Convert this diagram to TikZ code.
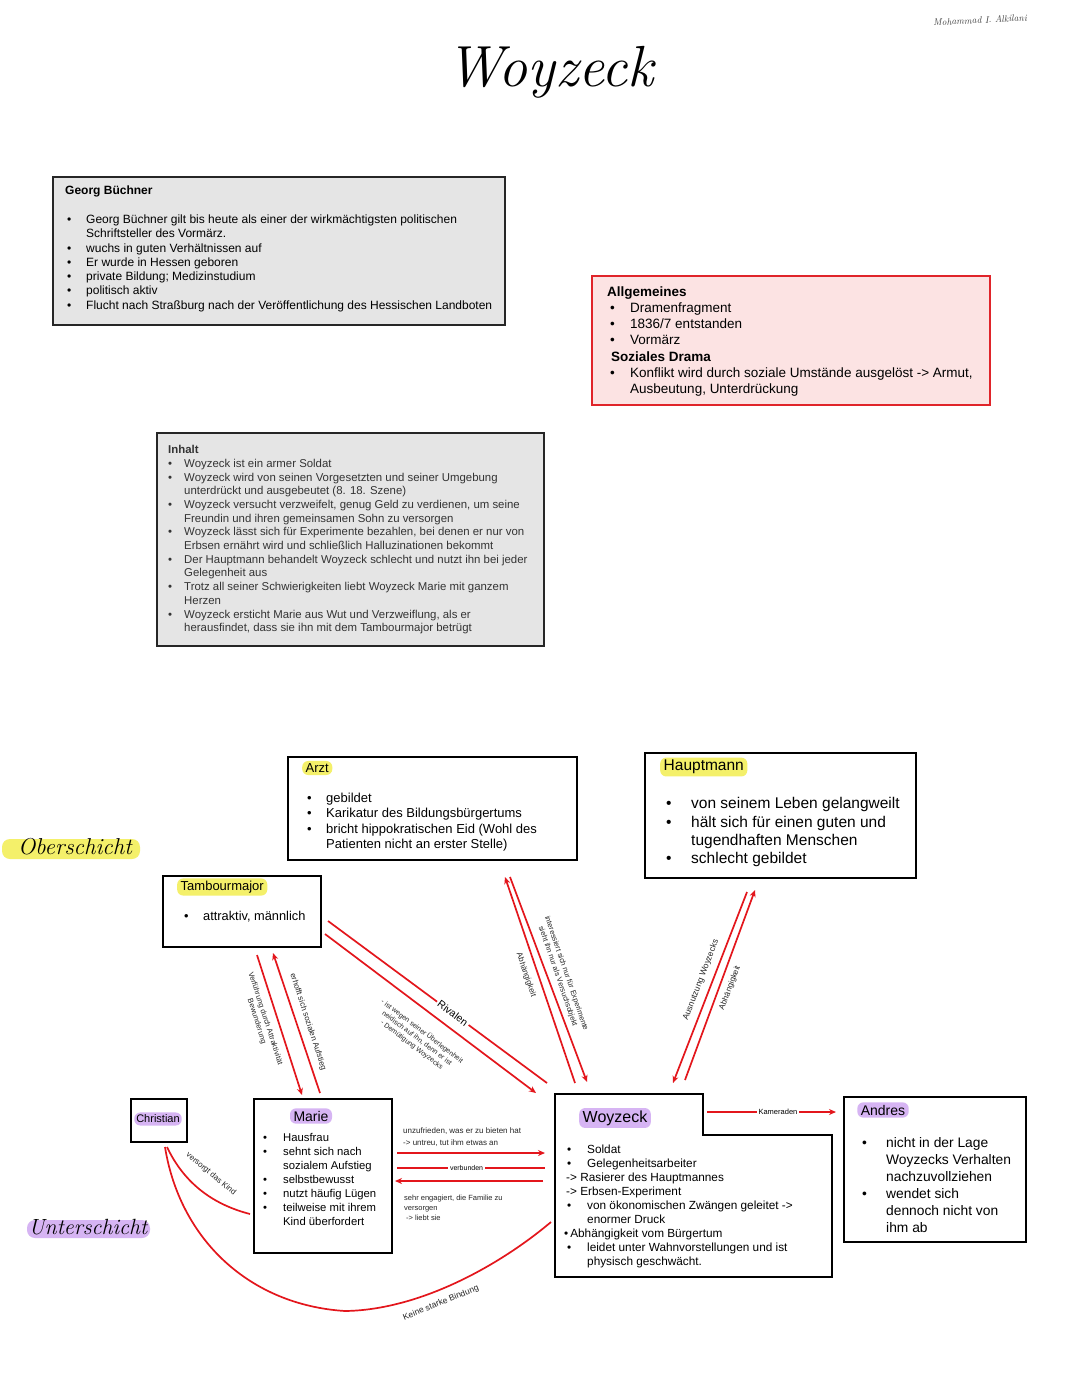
\documentclass[tikz,border=0pt]{standalone}
\usepackage{fontspec}
\setmainfont{Liberation Sans}
\usetikzlibrary{arrows.meta,calc}
\definecolor{relred}{HTML}{E3161C}
\definecolor{hly}{HTML}{F4F06A}
\definecolor{hlp}{HTML}{D6B4F3}
\definecolor{boxgray}{HTML}{E5E5E5}
\definecolor{boxpink}{HTML}{FCE3E3}
\definecolor{boxred}{HTML}{E0242A}
\newcommand\bul[2]{\hspace*{#1}\makebox[#2][l]{\textbullet}}
\newcommand\lmscript{\fontfamily{lmr}\fontshape{it}\selectfont}
\begin{document}
\begin{tikzpicture}[x=1pt,y=-1pt,
  tb/.style={anchor=north west, inner sep=0pt, align=left},
  boxn/.style={anchor=north west, inner sep=0pt, outer sep=0pt, draw=black, line width=2.4pt, fill=white},
  graybox/.style={boxn, fill=boxgray, draw=black!85, line width=2pt},
  pinkbox/.style={boxn, fill=boxpink, draw=boxred, line width=2pt},
  hl/.style={rounded corners=6pt, inner xsep=3.5pt, inner ysep=2.5pt},
  hlY/.style={hl, fill=hly},
  hlP/.style={hl, fill=hlp},
  rel/.style={draw=relred, line width=1.7pt},
  arr/.style={rel, -{Stealth[length=7pt,width=6pt]}},
  lab/.style={inner sep=0.5pt, text=black!85, align=center},
]
\fill[white] (0,0) rectangle (1080,1394);
\path[use as bounding box] (0,0) rectangle (1080,1394);

% title and signature
\node[font=\lmscript\fontsize{58}{60}\selectfont] (title) at (550,72) {Woyzeck};
\node[font=\lmscript\fontsize{9.5}{11}\selectfont, text=black!75, rotate=3] (sig) at (980,20) {Mohammad I. Alkilani};

% Georg Buechner
\node[graybox, minimum width=452pt, minimum height=148pt] (gb) at (53,177) {};
\node[tb, font=\fontsize{12}{14.3}\selectfont] (gbT) at (65,186) {\textbf{Georg Büchner}\\[14.3pt]
\bul{2pt}{19pt}Georg Büchner gilt bis heute als einer der wirkmächtigsten politischen\\
\hspace*{21pt}Schriftsteller des Vormärz.\\
\bul{2pt}{19pt}wuchs in guten Verhältnissen auf\\
\bul{2pt}{19pt}Er wurde in Hessen geboren\\
\bul{2pt}{19pt}private Bildung; Medizinstudium\\
\bul{2pt}{19pt}politisch aktiv\\
\bul{2pt}{19pt}Flucht nach Straßburg nach der Veröffentlichung des Hessischen Landboten};

% Allgemeines
\node[pinkbox, minimum width=398pt, minimum height=129pt] (allg) at (592,276) {};
\node[tb, font=\fontsize{13.5}{16.2}\selectfont] (allgT) at (607,286.3) {\textbf{Allgemeines}\\
\bul{3pt}{20pt}Dramenfragment\\
\bul{3pt}{20pt}1836/7 entstanden\\
\bul{3pt}{20pt}Vormärz\\
\hspace*{4pt}\textbf{Soziales Drama}\\
\bul{3pt}{20pt}Konflikt wird durch soziale Umstände ausgelöst -> Armut,\\
\hspace*{23pt}Ausbeutung, Unterdrückung};

% Inhalt
\node[graybox, minimum width=387pt, minimum height=213pt] (inh) at (157,433) {};
\node[tb, font=\fontsize{11.4}{13.7}\selectfont, text=black!80] (inhT) at (168,445.2) {\textbf{Inhalt}\\
\bul{0pt}{16pt}Woyzeck ist ein armer Soldat\\
\bul{0pt}{16pt}Woyzeck wird von seinen Vorgesetzten und seiner Umgebung\\
\hspace*{16pt}unterdrückt und ausgebeutet (8. 18. Szene)\\
\bul{0pt}{16pt}Woyzeck versucht verzweifelt, genug Geld zu verdienen, um seine\\
\hspace*{16pt}Freundin und ihren gemeinsamen Sohn zu versorgen\\
\bul{0pt}{16pt}Woyzeck lässt sich für Experimente bezahlen, bei denen er nur von\\
\hspace*{16pt}Erbsen ernährt wird und schließlich Halluzinationen bekommt\\
\bul{0pt}{16pt}Der Hauptmann behandelt Woyzeck schlecht und nutzt ihn bei jeder\\
\hspace*{16pt}Gelegenheit aus\\
\bul{0pt}{16pt}Trotz all seiner Schwierigkeiten liebt Woyzeck Marie mit ganzem\\
\hspace*{16pt}Herzen\\
\bul{0pt}{16pt}Woyzeck ersticht Marie aus Wut und Verzweiflung, als er\\
\hspace*{16pt}herausfindet, dass sie ihn mit dem Tambourmajor betrügt};

% class labels
\fill[hly, rounded corners=8pt] (2,839) rectangle (140,859);
\node[font=\lmscript\fontsize{23}{25}\selectfont] (ober) at (75,847) {Oberschicht};
\fill[hlp, rounded corners=8pt] (27,1220) rectangle (150,1238);
\node[font=\lmscript\fontsize{22}{24}\selectfont] (unter) at (88,1227) {Unterschicht};

% Arzt
\node[boxn, line width=2.8pt, minimum width=289pt, minimum height=103pt] (arzt) at (288,757) {};
\node[hlY, font=\fontsize{13}{15}\selectfont, anchor=west] (arztT) at (302,768) {Arzt};
\node[tb, font=\fontsize{13}{15.6}\selectfont] (arztB) at (305,792.5) {\bul{2pt}{19pt}gebildet\\
\bul{2pt}{19pt}Karikatur des Bildungsbürgertums\\
\bul{2pt}{19pt}bricht hippokratischen Eid (Wohl des\\
\hspace*{21pt}Patienten nicht an erster Stelle)};

% Hauptmann
\node[boxn, minimum width=271pt, minimum height=125pt] (haupt) at (645,753) {};
\node[hlY, font=\fontsize{15.5}{17}\selectfont, anchor=west] (hauptT) at (660,767) {Hauptmann};
\node[tb, font=\fontsize{15.5}{18.3}\selectfont] (hauptB) at (664,797.5) {\bul{2pt}{25pt}von seinem Leben gelangweilt\\
\bul{2pt}{25pt}hält sich für einen guten und\\
\hspace*{27pt}tugendhaften Menschen\\
\bul{2pt}{25pt}schlecht gebildet};

% Tambourmajor
\node[boxn, minimum width=158pt, minimum height=71pt] (tam) at (163,876) {};
\node[hlY, font=\fontsize{13}{14}\selectfont, anchor=west] (tamT) at (177,887) {Tambourmajor};
\node[tb, font=\fontsize{12.8}{14}\selectfont] (tamB) at (184,911.5) {\bul{0pt}{19pt}attraktiv, männlich};

% Christian
\node[boxn, minimum width=56pt, minimum height=43pt] (chr) at (131,1099) {};
\node[hlP, font=\fontsize{11}{12}\selectfont, inner xsep=2pt] (chrT) at (158,1119) {Christian};

% Marie
\node[boxn, minimum width=138pt, minimum height=154pt] (mar) at (254,1099) {};
\node[hlP, font=\fontsize{14}{16}\selectfont] (marT) at (311,1116) {Marie};
\node[tb, font=\fontsize{11.3}{14}\selectfont] (marB) at (263,1133.3) {\bul{0pt}{20pt}Hausfrau\\
\bul{0pt}{20pt}sehnt sich nach\\
\hspace*{20pt}sozialem Aufstieg\\
\bul{0pt}{20pt}selbstbewusst\\
\bul{0pt}{20pt}nutzt häufig Lügen\\
\bul{0pt}{20pt}teilweise mit ihrem\\
\hspace*{20pt}Kind überfordert};

% Woyzeck
\node[anchor=north west, inner sep=0pt, outer sep=0pt, minimum width=277pt, minimum height=183pt] (woy) at (555,1094) {};
\draw[line width=2.6pt] (woy.north west) -- ([shift={(148,0)}]woy.north west) -- ([shift={(148,41)}]woy.north west) -- ([shift={(0,41)}]woy.north east) -- (woy.south east) -- (woy.south west) -- cycle;
\node[hlP, font=\fontsize{16}{18}\selectfont] (woyT) at (615,1118) {Woyzeck};
\node[tb, font=\fontsize{11.8}{14}\selectfont] (woyB) at (563,1145) {\bul{4pt}{20pt}Soldat\\
\bul{4pt}{20pt}Gelegenheitsarbeiter\\
\hspace*{3pt}-> Rasierer des Hauptmannes\\
\hspace*{3pt}-> Erbsen-Experiment\\
\bul{4pt}{20pt}von ökonomischen Zwängen geleitet ->\\
\hspace*{24pt}enormer Druck\\
\hspace*{1pt}\textbullet\,Abhängigkeit vom Bürgertum\\
\bul{4pt}{20pt}leidet unter Wahnvorstellungen und ist\\
\hspace*{24pt}physisch geschwächt.};

% Andres
\node[boxn, minimum width=182pt, minimum height=145pt] (andr) at (844,1097) {};
\node[hlP, font=\fontsize{14}{16}\selectfont] (andrT) at (883,1110) {Andres};
\node[tb, font=\fontsize{13.8}{17}\selectfont] (andrB) at (862,1137.2) {\bul{0pt}{24pt}nicht in der Lage\\
\hspace*{24pt}Woyzecks Verhalten\\
\hspace*{24pt}nachzuvollziehen\\
\bul{0pt}{24pt}wendet sich\\
\hspace*{24pt}dennoch nicht von\\
\hspace*{24pt}ihm ab};

% ---- connectors ----
% Tambourmajor <-> Marie
\draw[arr] ([shift={(94,79)}]tam.north west) -- ([shift={(48,-4)}]mar.north west);
\draw[arr] ([shift={(66,-6)}]mar.north west) -- ([shift={(110,77)}]tam.north west);
\node[lab, font=\fontsize{7.5}{9}\selectfont, rotate=-72] (lTM1) at (261,1020) {Verführung durch Attraktivität\\Bewunderung};
\node[lab, font=\fontsize{8}{9}\selectfont, rotate=-72] (lTM2) at (308,1022) {erhofft sich sozialen Aufstieg};

% Tambourmajor -> Woyzeck (Rivalen)
\draw[rel] ([shift={(165,45)}]tam.north west) -- node[pos=0.57, sloped, fill=white, inner sep=2pt, font=\fontsize{10.5}{12}\selectfont] (lRiv) {Rivalen} ([shift={(-8,-11)}]woy.north west);
\draw[arr] ([shift={(162,58)}]tam.north west) -- ([shift={(-19,-1)}]woy.north west);
\node[lab, font=\fontsize{7}{8.5}\selectfont, rotate=-37] (lRiv2) at (417,1038) {- ist wegen seiner Überlegenheit\\neidisch auf ihn, denn er ist\\- Demütigung Woyzecks};

% Arzt <-> Woyzeck
\draw[arr] ([shift={(20,-11)}]woy.north west) -- ([shift={(217,120)}]arzt.north west);
\draw[arr] ([shift={(222,120)}]arzt.north west) -- ([shift={(32,-12)}]woy.north west);
\node[lab, font=\fontsize{8}{9}\selectfont, rotate=-71] (lAW1) at (526,975) {Abhängigkeit};
\node[lab, font=\fontsize{7.5}{9}\selectfont, rotate=-71] (lAW2) at (562,975) {interessiert sich nur für Experimente\\sieht ihn nur als Versuchsobjekt};

% Hauptmann <-> Woyzeck
\draw[arr] ([shift={(102,139)}]haupt.north west) -- ([shift={(118,-11)}]woy.north west);
\draw[arr] ([shift={(130,-14)}]woy.north west) -- ([shift={(110,137)}]haupt.north west);
\node[lab, font=\fontsize{8.5}{10}\selectfont, rotate=69] (lHW1) at (701,980) {Ausnutzung Woyzecks};
\node[lab, font=\fontsize{8}{9}\selectfont, rotate=69] (lHW2) at (730,988) {Abhängigkeit};

% Woyzeck -> Andres
\draw[arr] ([shift={(152,18)}]woy.north west) -- node[pos=0.55, fill=white, inner sep=2pt, font=\fontsize{7.5}{9}\selectfont] (lKam) {Kameraden} ([shift={(-8,15)}]andr.north west);

% Marie <-> Woyzeck
\draw[arr] ([shift={(143,54)}]mar.north west) -- ([shift={(-10,59)}]woy.north west);
\draw[rel] ([shift={(143,69)}]mar.north west) -- node[pos=0.47, fill=white, inner sep=2pt, font=\fontsize{7}{8}\selectfont] (lVerb) {verbunden} ([shift={(-10,74)}]woy.north west);
\draw[arr] ([shift={(-12,87)}]woy.north west) -- ([shift={(141,82)}]mar.north west);
\node[tb, font=\fontsize{8}{11.5}\selectfont, text=black!85] (lMW1) at (403,1127.5) {unzufrieden, was er zu bieten hat\\-> untreu, tut ihm etwas an};
\node[tb, font=\fontsize{7.5}{10}\selectfont, text=black!85] (lMW2) at (404,1195) {sehr engagiert, die Familie zu\\versorgen\\\hspace*{2pt}-> liebt sie};

% Christian curves
\draw[rel] ([shift={(36,48)}]chr.north west) .. controls (185,1185) and (215,1205) .. ([shift={(-4,115)}]mar.north west);
\node[lab, font=\fontsize{8}{9}\selectfont, rotate=-40] (lChr) at (211,1174) {versorgt das Kind};
\draw[rel] ([shift={(34,48)}]chr.north west) .. controls (180,1240) and (250,1305) .. (345,1311) .. controls (420,1310) and (500,1265) .. ([shift={(-4,128)}]woy.north west);
\node[lab, font=\fontsize{8.5}{10}\selectfont, rotate=22] (lBind) at (441,1303) {Keine starke Bindung};
\end{tikzpicture}
\end{document}
